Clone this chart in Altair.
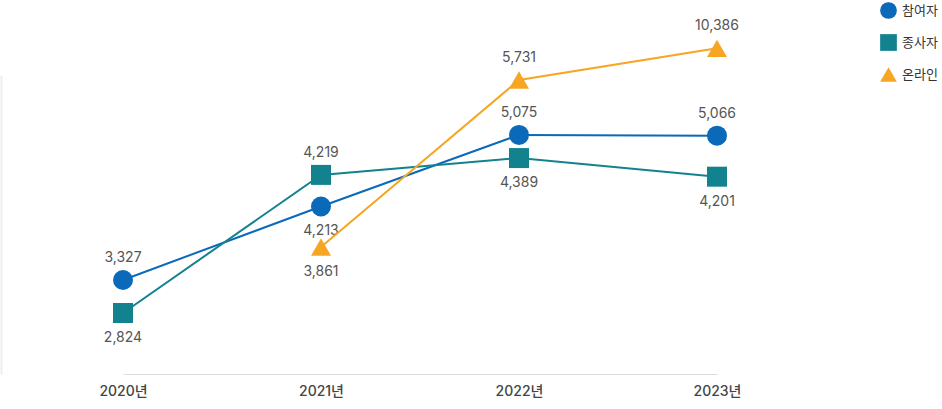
import altair as alt
import pandas as pd

years = ["2020년", "2021년", "2022년", "2023년"]
series_names = ["참여자", "종사자", "온라인"]
participants = [3327, 4213, 5075, 5066]
staff = [2824, 4219, 4389, 4201]
online = [None, 3861, 5731, 10386]

# label placement (style): which points get their value label below the marker
below = {
    "참여자": ["2021년"],
    "종사자": ["2020년", "2022년", "2023년"],
    "온라인": ["2021년"],
}

colors = ["#0a69b8", "#13828f", "#f6a623"]
shapes = ["circle", "square", "triangle-up"]
FONT = "Inter, Noto Sans CJK KR"

rows = []
for name, vals in zip(series_names, [participants, staff, online]):
    for y, v in zip(years, vals):
        if v is None:
            continue
        rows.append({"year": y, "series": name, "value": v,
                     "label": f"{v:,}",
                     "side": "below" if y in below[name] else "above"})
df = pd.DataFrame(rows)

xenc = alt.X("year:O", sort=years,
             scale=alt.Scale(type="point", range=[122, 716], padding=0),
             axis=alt.Axis(title=None, labelAngle=0, ticks=False, labelPadding=10,
                           labelFontSize=14, labelColor="#444", labelFont=FONT,
                           labelFontWeight=500, domainColor="#dddddd", domainWidth=1,
                           grid=False))

color = alt.Color("series:N", sort=series_names,
                  scale=alt.Scale(domain=series_names, range=colors),
                  legend=alt.Legend(title=None, orient="none", legendX=879, legendY=-73,
                                    symbolSize=280, symbolStrokeWidth=0, labelFontSize=13,
                                    labelFont=FONT, labelColor="#333", rowPadding=15,
                                    labelOffset=5, padding=0, labelLimit=60))
shape = alt.Shape("series:N", sort=series_names,
                  scale=alt.Scale(domain=series_names, range=shapes), legend=None)

scales = {
    "참여자": alt.Scale(type="linear", domain=[2194, 5797], zero=False, nice=False),
    "종사자": alt.Scale(type="linear", domain=[2208, 5228], zero=False, nice=False),
    "온라인": alt.Scale(type="pow", exponent=-4.5, domain=[3463, 5937], zero=False, nice=False),
}

layers = []
for i, name in enumerate(series_names):
    base = alt.Chart(df).transform_filter(alt.datum.series == name)
    if i == 0:
        yaxis = alt.Axis(title=None, labels=False, ticks=False, grid=False,
                         domainColor="#eeeeee", domainWidth=2)
    else:
        yaxis = None
    yenc = alt.Y("value:Q", scale=scales[name], axis=yaxis)
    line = base.mark_line(strokeWidth=2, clip=False).encode(x=xenc, y=yenc, color=color)
    pts = base.mark_point(filled=True, opacity=1, size=400, clip=False).encode(
        x=xenc, y=yenc, color=color, shape=shape)
    txt_above = base.transform_filter(alt.datum.side == "above").mark_text(
        dy=-22, fontSize=14, font=FONT, color="#555", baseline="middle").encode(
        x=xenc, y=yenc, text="label:N")
    txt_below = base.transform_filter(alt.datum.side == "below").mark_text(
        dy=25, fontSize=14, font=FONT, color="#555", baseline="middle").encode(
        x=xenc, y=yenc, text="label:N")
    layers.append(alt.layer(line, pts, txt_above, txt_below))

chart = alt.layer(*layers).resolve_scale(y="independent").properties(
    width=920, height=299,
    autosize=alt.AutoSizeParams(type="none"),
    padding={"left": 1, "top": 75, "right": 21, "bottom": 35},
).configure(font=FONT).configure_view(stroke="transparent", strokeWidth=0)

chart.save("out.html", embed_options={"renderer": "svg", "actions": False})
